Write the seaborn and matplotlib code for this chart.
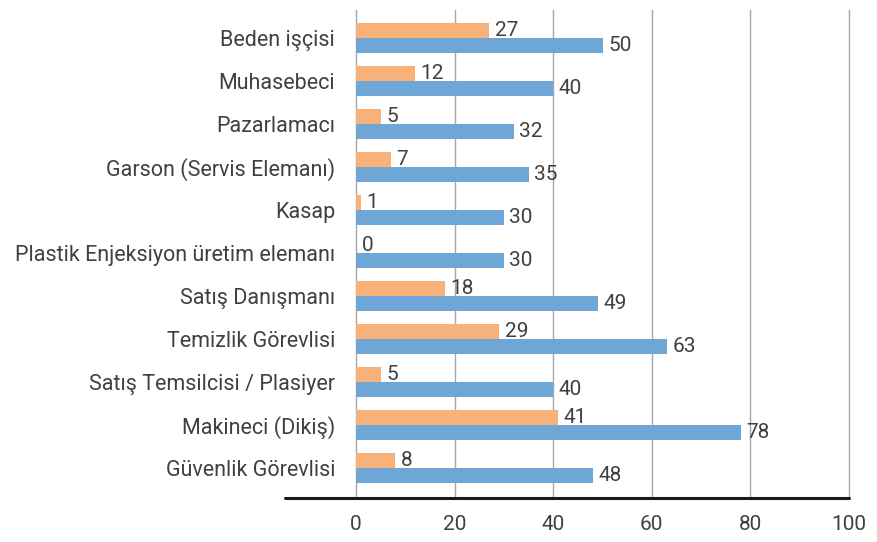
"""Horizontal grouped bars by occupation."""

import matplotlib

matplotlib.use("Agg")
import matplotlib.pyplot as plt
import pandas as pd
import seaborn as sns

categories = [
    "Beden işçisi",
    "Muhasebeci",
    "Pazarlamacı",
    "Garson (Servis Elemanı)",
    "Kasap",
    "Plastik Enjeksiyon üretim elemanı",
    "Satış Danışmanı",
    "Temizlik Görevlisi",
    "Satış Temsilcisi / Plasiyer",
    "Makineci (Dikiş)",
    "Güvenlik Görevlisi",
]
orange_values = [27, 12, 5, 7, 1, 0, 18, 29, 5, 41, 8]
blue_values = [50, 40, 32, 35, 30, 30, 49, 63, 40, 78, 48]
series_names = ["A", "B"]
x_ticks = [0, 20, 40, 60, 80, 100]

if __name__ == "__main__":
    sns.set_style("white")
    plt.rcParams["font.family"] = ["Roboto", "DejaVu Sans"]
    text_color = "#404040"

    df = pd.DataFrame(
        {
            "category": categories * 2,
            "value": orange_values + blue_values,
            "series": [series_names[0]] * len(categories)
            + [series_names[1]] * len(categories),
        }
    )

    fig = plt.figure(figsize=(8.78, 5.42), dpi=100)
    ax = fig.add_axes([356 / 878, 1 - 498 / 542, (849 - 356) / 878, (498 - 10) / 542])

    sns.barplot(
        data=df,
        y="category",
        x="value",
        hue="series",
        hue_order=series_names,
        palette=["#F8B179", "#6EA7D5"],
        width=0.7,
        orient="h",
        ax=ax,
        legend=False,
        saturation=1,
        linewidth=0,
        edgecolor="none",
    )

    for container in ax.containers:
        ax.bar_label(container, padding=4, fontsize=15, color=text_color)

    ax.set_xlim(0, 100)
    ax.set_ylim(10.7, -0.65)
    ax.set_xticks(x_ticks)
    ax.set_xlabel("")
    ax.set_ylabel("")
    ax.xaxis.grid(True, color="#a6a6a6", linewidth=1)
    for line in ax.get_xgridlines():
        line.set_clip_on(False)
    ax.set_axisbelow(True)
    for side in ["top", "right", "left", "bottom"]:
        ax.spines[side].set_visible(False)
    ax.tick_params(axis="x", direction="out", length=9, width=1, color="#a6a6a6",
                   labelsize=15, labelcolor=text_color, pad=3)
    ax.tick_params(axis="y", length=0, labelsize=15.5, labelcolor=text_color, pad=15)

    # dark axis line, extended to the left of zero
    ax.plot([-0.144, 1.0], [0, 0], transform=ax.transAxes, color="#1a1a1a",
            linewidth=2.2, clip_on=False, zorder=5)

    plt.savefig("out.png", dpi=100)
